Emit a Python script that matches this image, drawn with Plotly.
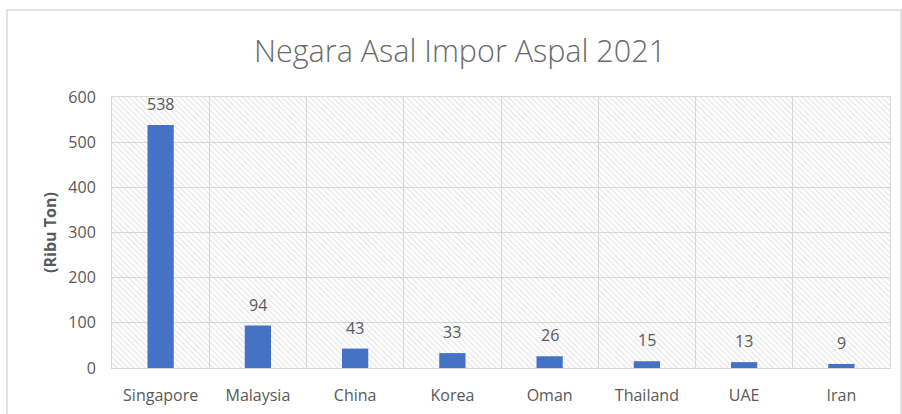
import plotly.graph_objects as go

categories = ["Singapore", "Malaysia", "China", "Korea", "Oman", "Thailand", "UAE", "Iran"]
values = [538, 94, 43, 33, 26, 15, 13, 9]
y_ticks = [0, 100, 200, 300, 400, 500, 600]

W, H = 902, 414
L, R, T, B = 112, 12, 97, 46
pw, ph = W - L - R, H - T - B

FONT = "Open Sans"
GRAY = "#595959"

fig = go.Figure()

# hatched plot background (decorative, spans the full axis range)
fig.add_trace(go.Bar(
    x=[0.5], y=[y_ticks[-1]], width=[1], xaxis="x", yaxis="y",
    marker=dict(color="rgba(0,0,0,0)", line=dict(width=0),
                pattern=dict(shape="\\", fgcolor="#c4c4c4", bgcolor="rgba(0,0,0,0)",
                             size=4, solidity=0.28)),
    hoverinfo="skip", showlegend=False,
))

fig.add_trace(go.Bar(
    x=categories, y=values, width=0.27, xaxis="x2", yaxis="y",
    marker=dict(color="#4472C4", line=dict(width=0)),
    showlegend=False,
))

for c, v in zip(categories, values):
    fig.add_annotation(x=c, y=v, xref="x2", yref="y", text=str(v),
                       showarrow=False, yanchor="bottom", yshift=8,
                       font=dict(family=FONT, size=16, color=GRAY))

def px_x(p):
    return (p - L) / pw

def px_y(p):
    return (H - B - p) / ph

fig.add_shape(type="rect", xref="paper", yref="paper",
              x0=px_x(7), x1=px_x(901), y0=px_y(420), y1=px_y(10),
              line=dict(color="#d9d9d9", width=1.5), layer="below")

fig.update_layout(
    width=W, height=H,
    margin=dict(l=L, r=R, t=T, b=B, autoexpand=False),
    paper_bgcolor="white", plot_bgcolor="white",
    barmode="overlay",
    title=dict(text="Negara Asal Impor Aspal 2021", x=460 / W, xanchor="center",
               y=1 - 51 / H, yanchor="middle",
               font=dict(family=FONT, size=30.5, color="#6a6a6a", weight=300)),
    xaxis=dict(range=[0, 1], visible=False, fixedrange=True, automargin=False),
    xaxis2=dict(type="category", overlaying="x", anchor="y", side="bottom",
                tickson="boundaries", showgrid=True, automargin=False,
                gridcolor="#d9d9d9", gridwidth=1, ticks="",
                showline=True, linecolor="#d9d9d9", mirror=True,
                tickfont=dict(family=FONT, size=16, color=GRAY),
                ticklabelstandoff=13, layer="above traces"),
    yaxis=dict(range=[0, 600], tickvals=y_ticks, showgrid=True, automargin=False,
               gridcolor="#d9d9d9", gridwidth=1, ticks="",
               showline=True, linecolor="#d9d9d9", mirror=True, zeroline=False,
               tickfont=dict(family=FONT, size=16, color=GRAY),
               ticklabelstandoff=12,
               title=dict(text="<b>(Ribu Ton)</b>", standoff=7,
                          font=dict(family=FONT, size=16, color=GRAY)),
               layer="above traces"),
)

fig.write_html("out.html", config={"displayModeBar": False},
               post_script="document.body.style.margin='0px';")
